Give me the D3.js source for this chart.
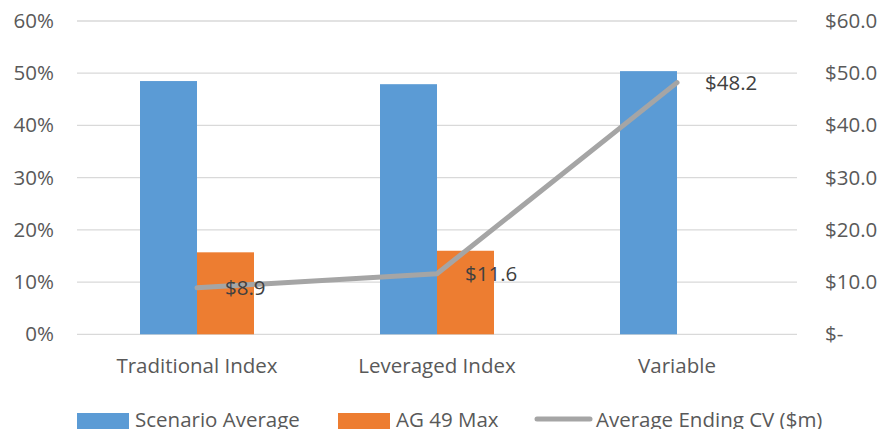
<!DOCTYPE html>
<html>
<head>
<meta charset="utf-8">
<script src="https://cdn.jsdelivr.net/npm/d3@7"></script>
<style>
  html, body { margin: 0; padding: 0; background: #fff; }
  svg { display: block; font-family: "Open Sans", sans-serif; }
</style>
</head>
<body>
<svg id="chart" width="883" height="429"></svg>
<script>
// Categories and series
const categories = ["Traditional Index", "Leveraged Index", "Variable"];
const scenarioAverage = [48.5, 47.9, 50.4];      // %
const ag49Max = [15.7, 16.0, null];              // %
const avgEndingCV = [8.9, 11.6, 48.2];           // $m
const leftTicks = [0, 10, 20, 30, 40, 50, 60];
const rightTicks = [0, 10, 20, 30, 40, 50, 60];
const seriesNames = ["Scenario Average", "AG 49 Max", "Average Ending CV ($m)"];

const colors = { blue: "#5B9BD5", orange: "#ED7D31", gray: "#A5A5A5" };
const FONT = "20.5px";

const svg = d3.select("#chart");
const margin = { left: 77, right: 86, top: 21, bottom: 94.7 };
const W = 883, H = 429;
const plotW = W - margin.left - margin.right;
const plotH = H - margin.top - margin.bottom;

const g = svg.append("g").attr("transform", `translate(${margin.left},${margin.top})`);

const x = d3.scaleBand().domain(categories).range([0, plotW]);
const yL = d3.scaleLinear().domain([0, 60]).range([plotH, 0]);
const yR = d3.scaleLinear().domain([0, 60]).range([plotH, 0]);

// Gridlines
g.append("g")
  .selectAll("line")
  .data(leftTicks)
  .join("line")
  .attr("x1", 0).attr("x2", plotW)
  .attr("y1", d => yL(d)).attr("y2", d => yL(d))
  .attr("stroke", "#D9D9D9").attr("stroke-width", 1.3);

function styleAxisText(sel) {
  sel.selectAll("text").attr("fill", "#595959").style("font-size", FONT)
    .style("font-family", "'Open Sans', sans-serif");
}

// Left axis
const leftAxis = g.append("g").call(
  d3.axisLeft(yL).tickValues(leftTicks).tickFormat(d => d + "%").tickSize(0).tickPadding(23)
);
leftAxis.select(".domain").remove();
styleAxisText(leftAxis);

// Right axis
const rightAxis = g.append("g").attr("transform", `translate(${plotW},0)`).call(
  d3.axisRight(yR).tickValues(rightTicks)
    .tickFormat(d => d === 0 ? "$-" : "$" + d3.format(".1f")(d))
    .tickSize(0).tickPadding(28)
);
rightAxis.select(".domain").remove();
styleAxisText(rightAxis);

// Category axis
const bottomAxis = g.append("g").attr("transform", `translate(0,${plotH})`).call(
  d3.axisBottom(x).tickSize(0).tickPadding(24)
);
bottomAxis.select(".domain").remove();
styleAxisText(bottomAxis);

// Bars: two slots per category, centred on the band
const barW = x.bandwidth() * 0.2375;
const cx = c => x(c) + x.bandwidth() / 2;

g.append("g").selectAll("rect")
  .data(categories.map((c, i) => ({ c, v: scenarioAverage[i] })))
  .join("rect")
  .attr("x", d => cx(d.c) - barW)
  .attr("width", barW)
  .attr("y", d => yL(d.v))
  .attr("height", d => yL(0) - yL(d.v))
  .attr("fill", colors.blue);

g.append("g").selectAll("rect")
  .data(categories.map((c, i) => ({ c, v: ag49Max[i] })).filter(d => d.v != null))
  .join("rect")
  .attr("x", d => cx(d.c))
  .attr("width", barW)
  .attr("y", d => yL(d.v))
  .attr("height", d => yL(0) - yL(d.v))
  .attr("fill", colors.orange);

// Line on the secondary axis
const pts = categories.map((c, i) => ({ c, v: avgEndingCV[i] }));
g.append("path")
  .datum(pts)
  .attr("fill", "none")
  .attr("stroke", colors.gray)
  .attr("stroke-width", 5)
  .attr("stroke-linecap", "round")
  .attr("stroke-linejoin", "round")
  .attr("d", d3.line().x(d => cx(d.c)).y(d => yR(d.v)));

// Data labels to the right of each point
g.append("g").selectAll("text")
  .data(pts)
  .join("text")
  .attr("x", d => cx(d.c) + 28)
  .attr("y", d => yR(d.v))
  .attr("dy", "0.35em")
  .attr("fill", "#404040")
  .style("font-size", FONT)
  .text(d => "$" + d3.format(".1f")(d.v));

// Legend along the bottom edge
const legend = svg.append("g").attr("transform", "translate(0,420)");
const legendItems = [
  { name: seriesNames[0], type: "rect", color: colors.blue, x: 77 },
  { name: seriesNames[1], type: "rect", color: colors.orange, x: 338 },
  { name: seriesNames[2], type: "line", color: colors.gray, x: 535 }
];
legendItems.forEach(it => {
  const item = legend.append("g").attr("transform", `translate(${it.x},0)`);
  if (it.type === "rect") {
    item.append("rect").attr("x", 0).attr("y", -7).attr("width", 52).attr("height", 16).attr("fill", it.color);
  } else {
    item.append("line").attr("x1", 2).attr("x2", 55).attr("y1", -1).attr("y2", -1)
      .attr("stroke", it.color).attr("stroke-width", 5).attr("stroke-linecap", "round");
  }
  item.append("text")
    .attr("x", it.type === "rect" ? 58 : 61)
    .attr("y", 7)
    .attr("fill", "#595959").style("font-size", FONT)
    .text(it.name);
});
</script>
</body>
</html>
